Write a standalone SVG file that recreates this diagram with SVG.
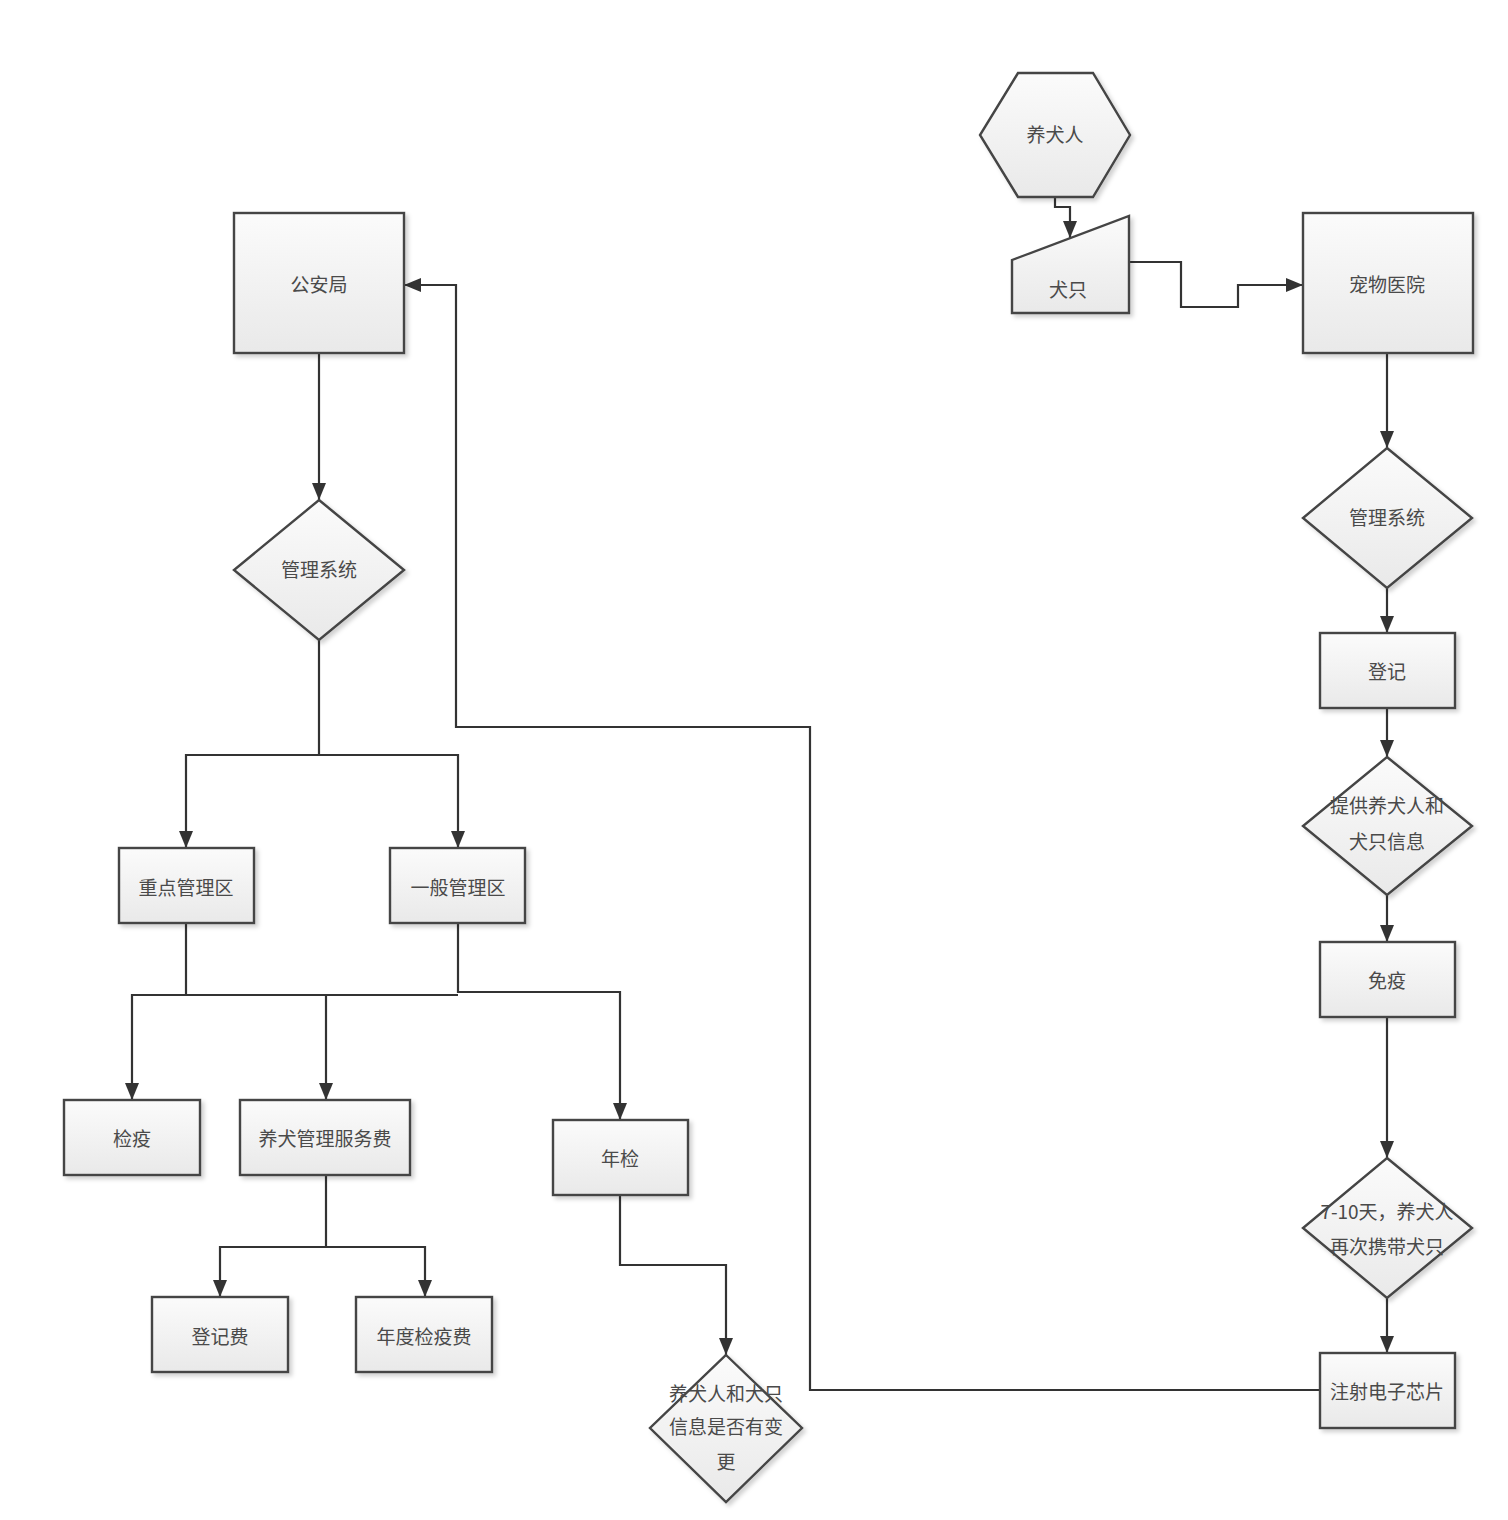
<svg xmlns="http://www.w3.org/2000/svg" width="1508" height="1520" viewBox="0 0 1508 1520">
<defs>
<linearGradient id="g" x1="0" y1="0" x2="0" y2="1">
<stop offset="0" stop-color="#fbfbfb"/>
<stop offset="1" stop-color="#e9e9e9"/>
</linearGradient>
<filter id="sh" x="-10%" y="-10%" width="130%" height="130%">
<feDropShadow dx="3" dy="3" stdDeviation="2" flood-color="#000" flood-opacity="0.18"/>
</filter>
<marker id="ar" viewBox="0 0 17 14" refX="17" refY="7" markerWidth="17" markerHeight="14" markerUnits="userSpaceOnUse" orient="auto">
<path d="M0,0 L17,7 L0,14 Z" fill="#333"/>
</marker>
</defs>
<style>
.n{fill:url(#g);stroke:#444;stroke-width:2.4;filter:url(#sh)}
.t{font-family:"Noto Sans CJK SC","Liberation Sans",sans-serif;font-size:19px;fill:#4a4a4a;text-anchor:middle;dominant-baseline:central}
.c{fill:none;stroke:#333;stroke-width:2.2}
</style>
<rect width="1508" height="1520" fill="#fff"/>
<g id="connectors">
<path class="c" d="M319,353 V500" marker-end="url(#ar)"/>
<path class="c" d="M319,640 V755 H186 V848" marker-end="url(#ar)"/>
<path class="c" d="M319,755 H458 V848" marker-end="url(#ar)"/>
<path class="c" d="M186,923 V995 H132 V1100" marker-end="url(#ar)"/>
<path class="c" d="M186,995 H458"/>
<path class="c" d="M326,995 V1100" marker-end="url(#ar)"/>
<path class="c" d="M458,923 V992 H620 V1120" marker-end="url(#ar)"/>
<path class="c" d="M326,1175 V1247 H220 V1297" marker-end="url(#ar)"/>
<path class="c" d="M326,1247 H425 V1297" marker-end="url(#ar)"/>
<path class="c" d="M620,1195 V1265 H726 V1355" marker-end="url(#ar)"/>
<path class="c" d="M1320,1390 H810 V727 H456 V285 H404" marker-end="url(#ar)"/>
<path class="c" d="M1055,197 V207 H1070 V238" marker-end="url(#ar)"/>
<path class="c" d="M1130,262 H1181 V307 H1238 V285 H1303" marker-end="url(#ar)"/>
<path class="c" d="M1387,353 V448" marker-end="url(#ar)"/>
<path class="c" d="M1387,588 V633" marker-end="url(#ar)"/>
<path class="c" d="M1387,708 V757" marker-end="url(#ar)"/>
<path class="c" d="M1387,895 V942" marker-end="url(#ar)"/>
<path class="c" d="M1387,1017 V1158" marker-end="url(#ar)"/>
<path class="c" d="M1387,1298 V1353" marker-end="url(#ar)"/>
</g>
<g id="gonganju"><rect class="n" x="234" y="213" width="170" height="140"/><text class="t" x="319" y="283">公安局</text></g>
<g id="guanli-left"><polygon class="n" points="319,500 404,570 319,640 234,570"/><text class="t" x="319" y="568">管理系统</text></g>
<g id="zhongdian"><rect class="n" x="119" y="848" width="135" height="75"/><text class="t" x="186" y="886">重点管理区</text></g>
<g id="yiban"><rect class="n" x="390" y="848" width="135" height="75"/><text class="t" x="458" y="886">一般管理区</text></g>
<g id="jianyi"><rect class="n" x="64" y="1100" width="136" height="75"/><text class="t" x="132" y="1137">检疫</text></g>
<g id="fuwufei"><rect class="n" x="240" y="1100" width="170" height="75"/><text class="t" x="325" y="1137">养犬管理服务费</text></g>
<g id="nianjian"><rect class="n" x="553" y="1120" width="135" height="75"/><text class="t" x="620" y="1157">年检</text></g>
<g id="dengjifei"><rect class="n" x="152" y="1297" width="136" height="75"/><text class="t" x="220" y="1335">登记费</text></g>
<g id="jianyifei"><rect class="n" x="356" y="1297" width="136" height="75"/><text class="t" x="424" y="1335">年度检疫费</text></g>
<g id="biangeng"><polygon class="n" points="726,1355 802,1428 726,1502 650,1428"/><text class="t" x="726" y="1392">养犬人和犬只</text><text class="t" x="726" y="1425">信息是否有变</text><text class="t" x="726" y="1460">更</text></g>
<g id="yangquanren"><polygon class="n" points="1018,73 1093,73 1130,135 1093,197 1018,197 980,135"/><text class="t" x="1055" y="133">养犬人</text></g>
<g id="quanzhi"><polygon class="n" points="1012,260 1129,216 1129,313 1012,313"/><text class="t" x="1068" y="288">犬只</text></g>
<g id="chongwu"><rect class="n" x="1303" y="213" width="170" height="140"/><text class="t" x="1387" y="283">宠物医院</text></g>
<g id="guanli-right"><polygon class="n" points="1387,448 1472,518 1387,588 1303,518"/><text class="t" x="1387" y="516">管理系统</text></g>
<g id="dengji"><rect class="n" x="1320" y="633" width="135" height="75"/><text class="t" x="1387" y="670">登记</text></g>
<g id="tigong"><polygon class="n" points="1387,757 1472,826 1387,895 1303,826"/><text class="t" x="1387" y="804">提供养犬人和</text><text class="t" x="1387" y="840">犬只信息</text></g>
<g id="mianyi"><rect class="n" x="1320" y="942" width="135" height="75"/><text class="t" x="1387" y="979">免疫</text></g>
<g id="zaici"><polygon class="n" points="1387,1158 1472,1228 1387,1298 1303,1228"/><text class="t" x="1387" y="1210">7-10天，养犬人</text><text class="t" x="1387" y="1245">再次携带犬只</text></g>
<g id="xinpian"><rect class="n" x="1320" y="1353" width="135" height="75"/><text class="t" x="1387" y="1390">注射电子芯片</text></g>
</svg>
